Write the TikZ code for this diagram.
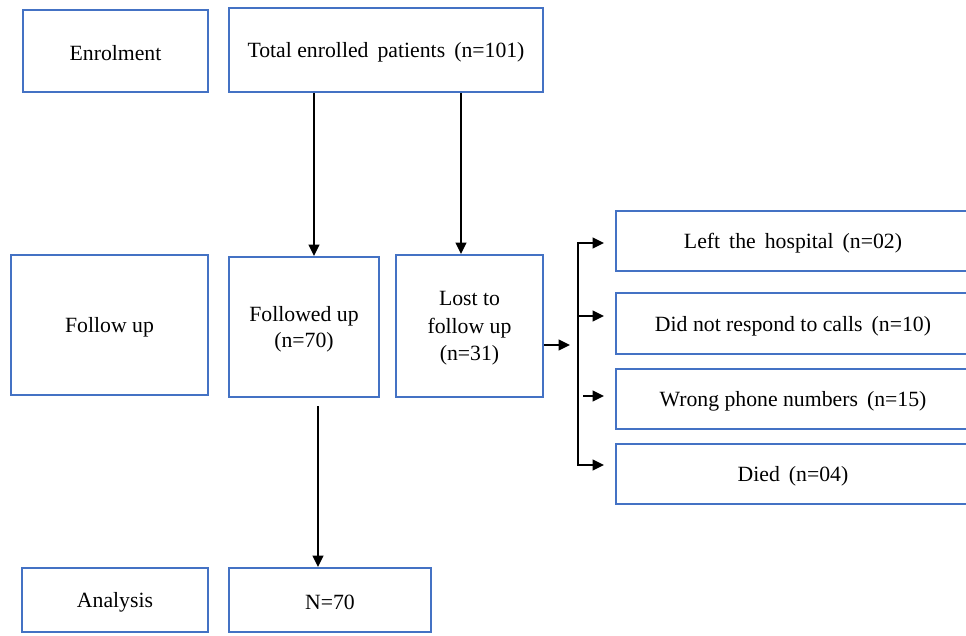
\documentclass[tikz,border=0pt]{standalone}
\usepackage{fontspec}
\setmainfont{Liberation Serif}
\usetikzlibrary{fit,arrows.meta}
\definecolor{boxblue}{RGB}{68,114,196}
\tikzset{
  box/.style={draw=boxblue, line width=1.4pt, rectangle, inner sep=0pt},
  txt/.style={align=center, font=\fontsize{16.3}{20}\selectfont, text=black, inner sep=0pt, yshift=-1.8pt},
  conn/.style={line width=1.4pt, -{Triangle[length=8.5pt,width=8pt]}},
  plain/.style={line width=1.4pt}
}
\begin{document}
\begin{tikzpicture}[x=0.75pt,y=-0.75pt]
\fill[white] (0,0) rectangle (966,635);
\useasboundingbox (0,0) rectangle (966,635);
% corner coordinates
\coordinate (e1) at (23,10);   \coordinate (e2) at (208,92);
\coordinate (t1) at (229,8);   \coordinate (t2) at (543,92);
\coordinate (f1) at (11,255);  \coordinate (f2) at (208,395);
\coordinate (g1) at (229,257); \coordinate (g2) at (379,397);
\coordinate (l1) at (396,255); \coordinate (l2) at (543,397);
\coordinate (r11) at (616,211); \coordinate (r12) at (970,271);
\coordinate (r21) at (616,293); \coordinate (r22) at (970,354);
\coordinate (r31) at (616,369); \coordinate (r32) at (970,429);
\coordinate (r41) at (616,444); \coordinate (r42) at (970,504);
\coordinate (a1) at (22,568);  \coordinate (a2) at (208,632);
\coordinate (n1) at (229,568); \coordinate (n2) at (431,632);
% boxes
\node[box, fit=(e1)(e2), label={[txt]center:Enrolment}] (enrol) {};
\node[box, fit=(t1)(t2), label={[txt]center:Total enrolled\, patients\, (n=101)}] (total) {};
\node[box, fit=(f1)(f2), label={[txt]center:Follow up}] (fup) {};
\node[box, fit=(g1)(g2), label={[txt]center:{Followed up\\(n=70)}}] (followed) {};
\node[box, fit=(l1)(l2), label={[txt, font=\fontsize{16.3}{20.5}\selectfont]center:{Lost to\\follow up\\(n=31)}}] (lost) {};
\node[box, fit=(r11)(r12), label={[txt]center:Left\, the\, hospital\, (n=02)}] (left) {};
\node[box, fit=(r21)(r22), label={[txt]center:Did not respond to calls\, (n=10)}] (resp) {};
\node[box, fit=(r31)(r32), label={[txt]center:Wrong phone numbers\, (n=15)}] (wrong) {};
\node[box, fit=(r41)(r42), label={[txt]center:Died\, (n=04)}] (died) {};
\node[box, fit=(a1)(a2), label={[txt]center:Analysis}] (anal) {};
\node[box, fit=(n1)(n2), label={[txt]center:N=70}] (nbox) {};
% connectors
\draw[conn] (total.south -| 314,0) -- (followed.north -| 314,0);
\draw[conn] (total.south -| 461,0) -- (lost.north -| 461,0);
\coordinate (lo) at (570,345);
\draw[conn] (lost.east |- lo) -- (lo);
\coordinate (s1) at (578,243);
\coordinate (s4) at (578,465);
\draw[plain] (s1) -- (s4);
\coordinate (b1) at (604,243);
\coordinate (b2) at (604,316);
\coordinate (b3) at (604,396);
\coordinate (b4) at (604,465);
\draw[conn] (577.3,243) -- (b1);
\draw[conn] (578,316) -- (b2);
\draw[conn] (583,396) -- (b3);
\draw[conn] (577.3,465) -- (b4);
\coordinate (ds) at (318,406);
\draw[conn] (ds) -- (nbox.north -| ds);
\end{tikzpicture}
\end{document}
